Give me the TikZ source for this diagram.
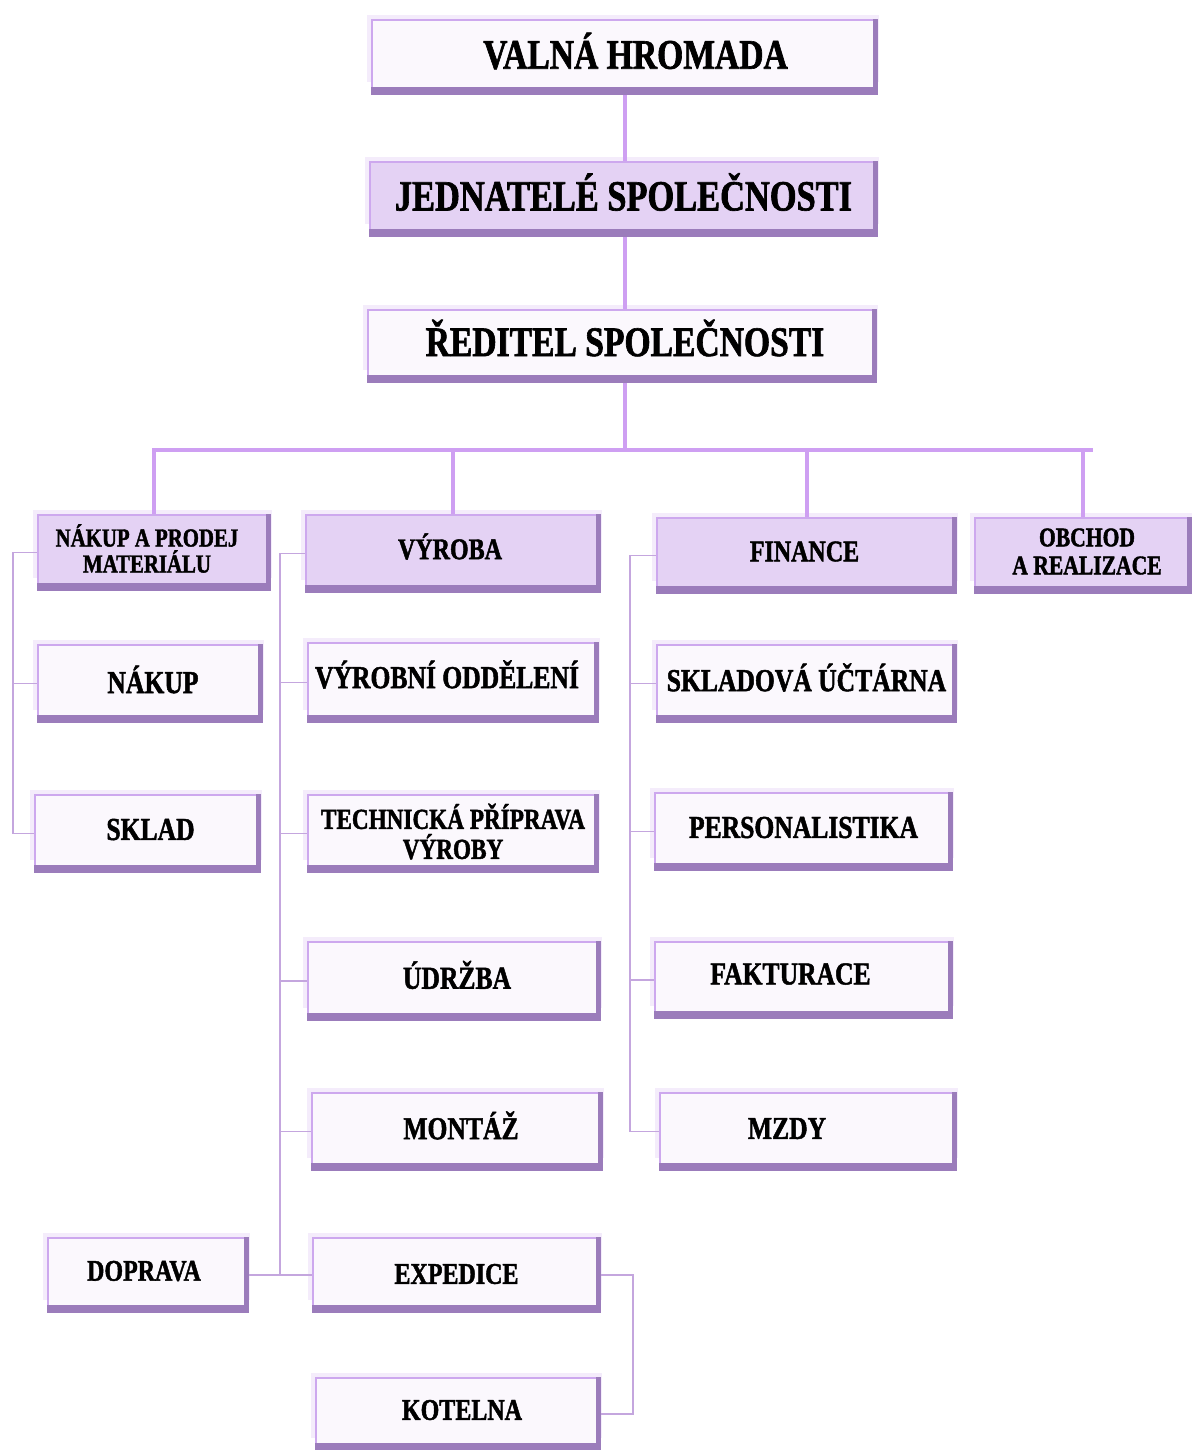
\documentclass[tikz,border=0pt]{standalone}
\usepackage{fontspec}
\setmainfont{Liberation Serif}
\newfontfamily\bfont{Liberation Serif}[FakeStretch=0.8,FakeBold=1.5]
\newcommand\fs[2]{\bfont\bfseries\fontsize{#1}{#2}\selectfont}
\definecolor{lav}{HTML}{E4D2F4}
\definecolor{wh}{HTML}{FBF8FD}
\definecolor{bord}{HTML}{CDA8EE}
\definecolor{band}{HTML}{9B7CBB}
\definecolor{conn}{HTML}{CE9FF2}
\definecolor{thin}{HTML}{C4A6DE}
\definecolor{glow}{HTML}{F4ECFB}
\tikzset{
  boxs/.style={draw=bord, line width=1.2pt, inner sep=0pt},
  lbl/.style={align=center, inner sep=0pt, font=\fs{16}{17}},
  main/.style={draw=conn, line width=2pt},
  thinl/.style={draw=thin, line width=0.9pt},
}
% name, x1, y1, x2, y2, fill, label options, text
\newcommand\obox[8]{%
  \fill[glow] (#2-5,#3-5) rectangle (#4+2,#5-12);
  \node[boxs, fill=#6, minimum width={(#4-#2)*0.5pt}, minimum height={(#5-#3)*0.5pt}]
        (#1) at ({(#2+#4)/2},{(#3+#5)/2}) {};
  \fill[band] ([yshift=4pt]#1.south west) rectangle (#1.south east);
  \fill[band] ([xshift=-2.5pt]#1.north east) rectangle (#1.south east);
  \node[lbl, yshift=2pt, #7] (#1-t) at (#1.center) {#8};
}
\begin{document}
\begin{tikzpicture}[x=0.5pt,y=-0.5pt]
\useasboundingbox (0,0) rectangle (1191,1450);
\obox{valna}{372}{20}{877}{94}{wh}{font=\fs{21}{23}, xshift=5.5pt, yshift=1pt}{VALNÁ HROMADA}
\obox{jedn}{370}{162}{877}{236}{lav}{font=\fs{21.5}{23}, yshift=1.5pt}{JEDNATELÉ SPOLEČNOSTI}
\obox{red}{368}{310}{876}{382}{wh}{font=\fs{21}{23}, xshift=1.5pt, yshift=2pt}{ŘEDITEL SPOLEČNOSTI}
\obox{nprod}{38}{515}{270}{590}{lav}{font=\fs{13}{13}, xshift=-3.5pt}{NÁKUP A PRODEJ\\MATERIÁLU}
\obox{vyroba}{306}{515}{600}{592}{lav}{font=\fs{15}{16}, xshift=-1.5pt, yshift=1.5pt}{VÝROBA}
\obox{finance}{657}{518}{956}{593}{lav}{font=\fs{15}{16}, xshift=-1pt}{FINANCE}
\obox{obchod}{975}{518}{1191}{593}{lav}{font=\fs{13.5}{14}, xshift=2pt}{OBCHOD\\A REALIZACE}
\obox{nakup}{38}{645}{262}{722}{wh}{xshift=1.5pt}{NÁKUP}
\obox{sklad}{35}{795}{260}{872}{wh}{xshift=1.5pt}{SKLAD}
\obox{doprava}{48}{1238}{248}{1312}{wh}{font=\fs{15}{16}, xshift=-2pt}{DOPRAVA}
\obox{vyrodd}{308}{643}{598}{722}{wh}{xshift=-3pt, yshift=2pt}{VÝROBNÍ ODDĚLENÍ}
\obox{tech}{308}{795}{598}{872}{wh}{font=\fs{14.5}{15}, yshift=-1pt}{TECHNICKÁ PŘÍPRAVA\\VÝROBY}
\obox{udrzba}{308}{942}{600}{1020}{wh}{xshift=1.5pt, yshift=1pt}{ÚDRŽBA}
\obox{montaz}{312}{1093}{602}{1170}{wh}{xshift=2pt, yshift=1pt}{MONTÁŽ}
\obox{exped}{313}{1238}{600}{1312}{wh}{font=\fs{15}{16}, yshift=-1.5pt}{EXPEDICE}
\obox{kotelna}{316}{1378}{600}{1450}{wh}{font=\fs{15}{16}, xshift=2pt}{KOTELNA}
\obox{sklu}{657}{645}{956}{722}{wh}{yshift=1pt}{SKLADOVÁ ÚČTÁRNA}
\obox{pers}{655}{793}{952}{870}{wh}{}{PERSONALISTIKA}
\obox{fakt}{655}{942}{952}{1018}{wh}{xshift=-6.5pt, yshift=1pt}{FAKTURACE}
\obox{mzdy}{660}{1093}{956}{1170}{wh}{xshift=-10.5pt, yshift=-0.5pt}{MZDY}
% main connectors
\coordinate (busL) at (152,450);
\coordinate (busR) at (1093,450);
\draw[main] (valna.south) -- (valna.south |- jedn.north);
\draw[main] (valna.south |- jedn.south) -- (valna.south |- red.north);
\draw[main] (valna.south |- red.south) -- (valna.south |- busL);
\draw[main] (busL) -- (busR);
\foreach \n in {nprod,vyroba,finance,obchod} \draw[main] (\n.north) -- (\n.north |- busL);
% thin connectors
\coordinate (ls) at (13,0);
\coordinate (ms) at (280,0);
\coordinate (rs) at (630,0);
\draw[thinl] (nprod.west) -- (nprod.west -| ls) |- (sklad.west);
\draw[thinl] (nakup.west) -- (nakup.west -| ls);
\draw[thinl] (vyroba.west) -- (vyroba.west -| ms) |- (exped.west);
\foreach \n in {vyrodd,tech,udrzba,montaz} \draw[thinl] (\n.west) -- (\n.west -| ms);
\draw[thinl] (doprava.east) -- (exped.west);
\draw[thinl] (finance.west) -- (finance.west -| rs) |- (mzdy.west);
\foreach \n in {sklu,pers,fakt} \draw[thinl] (\n.west) -- (\n.west -| rs);
\draw[thinl] (exped.east) -- ++(32,0) |- (kotelna.east);
\end{tikzpicture}
\end{document}
